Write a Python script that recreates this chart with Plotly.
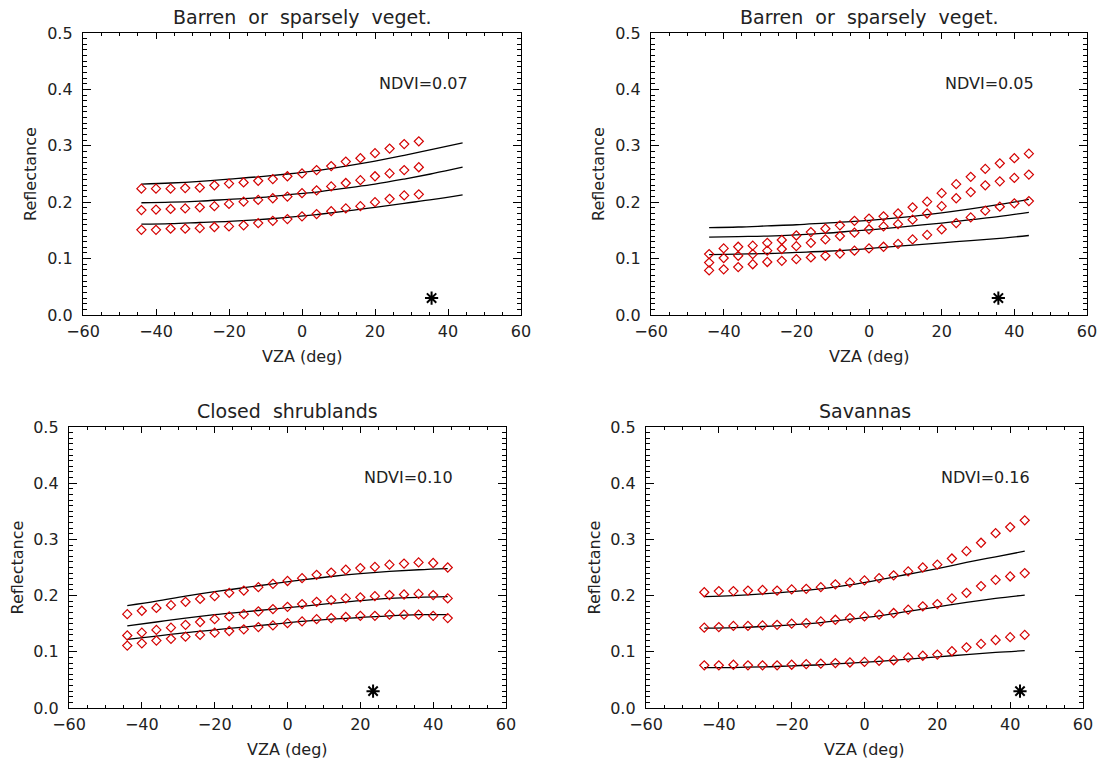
import plotly.graph_objects as go

# ---------------- data ----------------
vza_pts = [-44, -40, -36, -32, -28, -24, -20, -16, -12, -8, -4, 0, 4, 8, 12, 16, 20, 24, 28, 32, 36, 40, 44]
vza_pts_p1 = vza_pts[:20]
vza_line = [-44, -36, -28, -20, -12, -4, 4, 12, 20, 28, 36, 44]

titles = ["Barren\u00a0 or\u00a0 sparsely\u00a0 veget.", "Barren\u00a0 or\u00a0 sparsely\u00a0 veget.",
          "Closed\u00a0 shrublands", "Savannas"]
ndvi_labels = ["NDVI=0.07", "NDVI=0.05", "NDVI=0.10", "NDVI=0.16"]
sza = [35.5, 35.6, 23.5, 42.7]
sza_y = [0.03, 0.03, 0.03, 0.03]

# observed reflectances (diamonds)
p1_obs_up = [.224, .224, .224, .225, .226, .230, .233, .235, .238, .241, .246, .251, .257, .264, .272, .278, .287, .295, .303, .308]
p1_obs_mid = [.186, .187, .188, .189, .191, .193, .197, .201, .204, .207, .210, .216, .221, .228, .234, .239, .246, .251, .257, .262]
p1_obs_low = [.151, .151, .153, .153, .154, .156, .157, .159, .163, .167, .170, .175, .179, .184, .189, .193, .200, .206, .212, .214]

p2_obs_up = [.108, .118, .121, .123, .128, .133, .141, .147, .153, .159, .167, .171, .175, .180, .191, .201, .216, .232, .245, .259, .269, .278, .286]
p2_obs_mid = [.093, .101, .105, .108, .114, .117, .122, .128, .134, .140, .146, .152, .157, .161, .169, .180, .193, .207, .218, .230, .237, .243, .249]
p2_obs_low = [.079, .081, .085, .090, .094, .096, .099, .102, .105, .109, .114, .118, .121, .126, .134, .142, .152, .163, .173, .185, .192, .198, .202]

p3_obs_up = [.167, .173, .178, .183, .189, .194, .199, .205, .209, .215, .221, .226, .231, .237, .241, .246, .249, .251, .255, .257, .259, .258, .250]
p3_obs_mid = [.129, .134, .139, .143, .148, .153, .158, .163, .167, .172, .176, .180, .185, .189, .192, .195, .197, .199, .201, .202, .203, .201, .195]
p3_obs_low = [.111, .115, .120, .123, .127, .130, .134, .137, .140, .144, .147, .151, .154, .158, .160, .162, .164, .164, .166, .166, .166, .164, .160]

p4_obs_up = [.206, .208, .208, .209, .210, .209, .211, .212, .215, .220, .223, .227, .231, .236, .243, .250, .255, .266, .279, .294, .311, .322, .334]
p4_obs_mid = [.143, .144, .146, .146, .147, .148, .150, .151, .154, .157, .160, .163, .166, .169, .175, .181, .185, .195, .205, .217, .228, .234, .240]
p4_obs_low = [.076, .076, .077, .076, .076, .076, .077, .078, .079, .080, .081, .082, .084, .085, .090, .093, .095, .101, .108, .114, .121, .126, .130]

# modelled reflectances (lines)
p1_mod_up = [.232, .234, .237, .241, .245, .250, .256, .264, .273, .283, .294, .305]
p1_mod_mid = [.199, .200, .202, .205, .208, .213, .218, .225, .232, .241, .251, .262]
p1_mod_low = [.161, .162, .164, .166, .169, .173, .178, .184, .191, .198, .205, .213]

p2_mod_up = [.155, .156, .158, .160, .163, .166, .170, .175, .181, .188, .196, .205]
p2_mod_mid = [.138, .139, .140, .142, .145, .149, .153, .158, .163, .169, .175, .182]
p2_mod_low = [.107, .108, .109, .111, .113, .116, .120, .124, .128, .132, .136, .141]

p3_mod_up = [.182, .190, .199, .207, .214, .221, .228, .234, .239, .243, .246, .248]
p3_mod_mid = [.146, .153, .160, .166, .171, .176, .181, .186, .191, .195, .197, .198]
p3_mod_low = [.122, .128, .134, .139, .144, .149, .154, .158, .161, .164, .166, .166]

p4_mod_up = [.198, .200, .203, .207, .212, .219, .228, .238, .248, .259, .269, .279]
p4_mod_mid = [.142, .143, .145, .148, .152, .158, .164, .172, .180, .188, .195, .201]
p4_mod_low = [.072, .072, .073, .075, .077, .080, .083, .087, .091, .095, .099, .102]

panels = [
    (vza_pts_p1, [p1_obs_up, p1_obs_mid, p1_obs_low], [p1_mod_up, p1_mod_mid, p1_mod_low]),
    (vza_pts, [p2_obs_up, p2_obs_mid, p2_obs_low], [p2_mod_up, p2_mod_mid, p2_mod_low]),
    (vza_pts, [p3_obs_up, p3_obs_mid, p3_obs_low], [p3_mod_up, p3_mod_mid, p3_mod_low]),
    (vza_pts, [p4_obs_up, p4_obs_mid, p4_obs_low], [p4_mod_up, p4_mod_mid, p4_mod_low]),
]

# ---------------- layout geometry (pixels) ----------------
W, H = 1101, 760
frames = [  # left, right, top, bottom
    (83, 521, 33, 315),
    (651, 1087, 33, 315),
    (69, 506, 427, 708),
    (646, 1083, 427, 708),
]
FONT = "DejaVu Sans"
TXT = "#222222"

fig = go.Figure()
annotations = []
for i, (xs, obs, mod) in enumerate(panels):
    n = i + 1
    xa = "x" if n == 1 else f"x{n}"
    ya = "y" if n == 1 else f"y{n}"
    for m in mod:
        fig.add_trace(go.Scatter(x=vza_line, y=m, mode="lines", xaxis=xa, yaxis=ya,
                                 line=dict(color="black", width=1.3, shape="spline"),
                                 showlegend=False, hoverinfo="skip"))
    for o in obs:
        fig.add_trace(go.Scatter(x=xs, y=o, mode="markers", xaxis=xa, yaxis=ya,
                                 marker=dict(symbol="diamond-open", size=7, color="#d40000",
                                             line=dict(width=1.2, color="#d40000")),
                                 showlegend=False))
    fig.add_trace(go.Scatter(x=[sza[i]], y=[sza_y[i]], mode="markers", xaxis=xa, yaxis=ya,
                             marker=dict(symbol="asterisk-open", size=11, color="black",
                                         line=dict(width=2, color="black")),
                             showlegend=False))

    l, r, t, b = frames[i]
    xd = [l / W, r / W]
    yd = [1 - b / H, 1 - t / H]
    axk = "xaxis" if n == 1 else f"xaxis{n}"
    ayk = "yaxis" if n == 1 else f"yaxis{n}"
    fig.layout[axk] = dict(
        domain=xd, anchor=ya, range=[-60, 60], tickmode="linear", tick0=-60, dtick=20,
        ticks="inside", ticklen=6, tickwidth=1.2, tickcolor="black",
        minor=dict(dtick=5, ticklen=3, ticks="inside", tickcolor="black", tickwidth=1.2),
        showline=True, linecolor="black", linewidth=1.4, mirror="allticks",
        showgrid=False, zeroline=False, automargin=False,
        tickfont=dict(family=FONT, size=16, color=TXT), ticklabelstandoff=2,
    )
    fig.layout[ayk] = dict(
        domain=yd, anchor=xa, range=[0, 0.5], tickmode="linear", tick0=0, dtick=0.1,
        tickformat=".1f",
        ticks="inside", ticklen=8, tickwidth=1.2, tickcolor="black",
        minor=dict(dtick=0.01, ticklen=4, ticks="inside", tickcolor="black", tickwidth=1.2),
        showline=True, linecolor="black", linewidth=1.4, mirror="allticks",
        showgrid=False, zeroline=False, automargin=False,
        tickfont=dict(family=FONT, size=16, color=TXT), ticklabelstandoff=6,
    )
    cx = (l + r) / 2 / W
    # panel title
    annotations.append(dict(text=titles[i], xref="paper", yref="paper", x=cx, y=1 - (t - 16) / H,
                            xanchor="center", yanchor="middle", showarrow=False,
                            font=dict(family=FONT, size=19, color=TXT)))
    # x axis title
    annotations.append(dict(text="VZA (deg)", xref="paper", yref="paper", x=cx, y=1 - (b + 41) / H,
                            xanchor="center", yanchor="middle", showarrow=False,
                            font=dict(family=FONT, size=16, color=TXT)))
    # y axis title
    annotations.append(dict(text="Reflectance", xref="paper", yref="paper", x=(l - 52) / W,
                            y=1 - (t + b) / 2 / H, xanchor="center", yanchor="middle",
                            textangle=-90, showarrow=False,
                            font=dict(family=FONT, size=16, color=TXT)))
    # NDVI label
    annotations.append(dict(text=ndvi_labels[i], xref=xa, yref=ya, x=20.5, y=0.41,
                            xanchor="left", yanchor="middle", showarrow=False,
                            font=dict(family=FONT, size=16, color=TXT)))

fig.update_layout(width=W, height=H, margin=dict(l=0, r=0, t=0, b=0, autoexpand=False),
                  paper_bgcolor="white", plot_bgcolor="white",
                  annotations=annotations, showlegend=False)

fig.write_html("out.html")
